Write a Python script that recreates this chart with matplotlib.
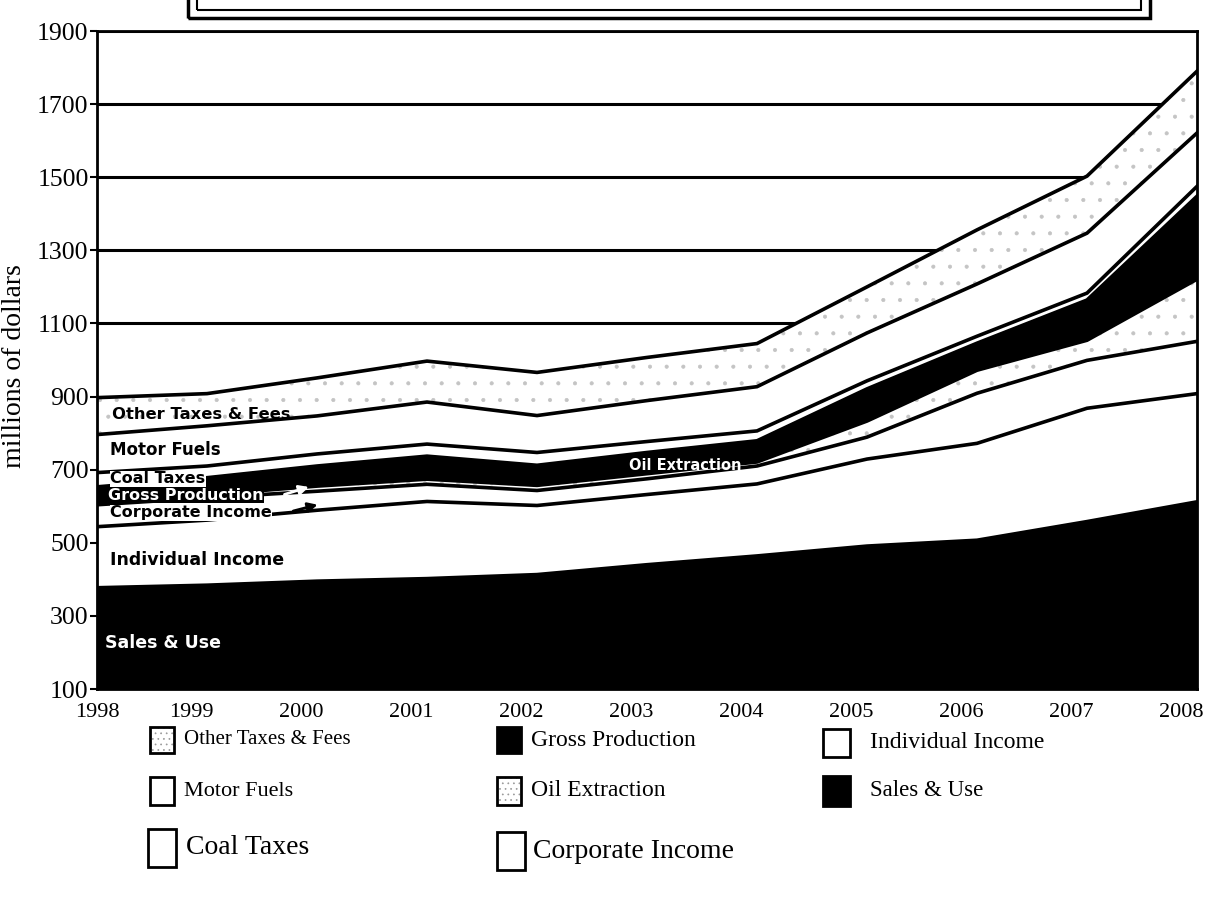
import numpy as np
import matplotlib
matplotlib.use("Agg")
import matplotlib.pyplot as plt
from matplotlib.patches import Rectangle
from matplotlib.transforms import offset_copy

# tax collections, millions of dollars
years = np.arange(1998, 2009)

# stacked from the bottom up
sales_use = [377, 384, 395, 402, 413, 440, 464, 491, 507, 558, 612]
individual_income = [167, 178, 194, 211, 189, 192, 197, 238, 265, 310, 296]
corporate_income = [60, 61, 52, 47, 41, 43, 49, 60, 137, 131, 143]
oil_extraction = [8, 8, 14, 14, 14, 14, 11, 44, 63, 55, 170]
gross_production = [41, 47, 55, 63, 55, 58, 58, 88, 74, 110, 227]
coal_taxes = [39, 32, 33, 33, 35, 30, 27, 22, 19, 19, 27]
motor_fuels = [104, 110, 104, 115, 101, 112, 121, 131, 143, 164, 146]
other_taxes = [101, 88, 104, 112, 118, 118, 118, 126, 148, 156, 169]

y_ticks = list(range(100, 2000, 200))

SERIF = "Liberation Serif"
STIPPLE = "#c4c4c4"

layers = [
    ("Sales & Use", sales_use, "black", None),
    ("Individual Income", individual_income, "white", None),
    ("Corporate Income", corporate_income, "white", None),
    ("Oil Extraction", oil_extraction, "white", "."),
    ("Gross Production", gross_production, "black", None),
    ("Coal Taxes", coal_taxes, "white", None),
    ("Motor Fuels", motor_fuels, "white", None),
    ("Other Taxes & Fees", other_taxes, "white", "."),
]

plt.rcParams["hatch.linewidth"] = 0.5

W, H = 1207, 907
fig = plt.figure(figsize=(W / 100, H / 100), dpi=100)
ax = fig.add_axes([97 / W, 1 - 689 / H, 1100 / W, 658 / H])


def fpos(x, y):
    # pixel position (from top-left) to figure fraction
    return x / W, 1 - y / H


base = np.zeros(len(years))
for name, vals, color, hatch in layers:
    top = base + np.array(vals)
    if hatch:
        ax.fill_between(years, base, top, facecolor="white", edgecolor=STIPPLE,
                        hatch=hatch, linewidth=0, zorder=2)
    else:
        ax.fill_between(years, base, top, facecolor=color, linewidth=0, zorder=2)
    ax.plot(years, top, color="black", lw=2.6, zorder=3, solid_joinstyle="miter")
    base = top

ax.set_xlim(1998, 2008)
ax.set_ylim(100, 1900)
ax.set_yticks(y_ticks)
ax.set_xticks(years)
ax.set_axisbelow(True)
ax.grid(axis="y", color="black", lw=2.2)
ax.grid(axis="x", visible=False)

for side in ["left", "right", "top", "bottom"]:
    ax.spines[side].set_linewidth(2)
    ax.spines[side].set_color("black")

ax.tick_params(axis="y", direction="out", length=5, width=1.5, labelsize=18.5, pad=1)
ax.tick_params(axis="x", length=0, labelsize=16, pad=10)
for lab in ax.get_xticklabels() + ax.get_yticklabels():
    lab.set_fontfamily(SERIF)
# year labels after the first sit a little left of their year
for lab in ax.get_xticklabels()[1:]:
    lab.set_transform(offset_copy(lab.get_transform(), fig=fig, x=-16, y=0, units="dots"))

fig.text(15 / W, 1 - 366 / H, "millions of dollars", rotation=90, ha="center",
         va="center", fontsize=20, family=SERIF)

# labels drawn on the bands
band = dict(family="DejaVu Sans", weight="bold", zorder=5, va="center")
ax.text(1998.14, 851, "Other Taxes & Fees", color="black", fontsize=11.8, **band)
ax.text(1998.12, 755, "Motor Fuels", color="black", fontsize=12, **band)
ax.text(1998.12, 675, "Coal Taxes", color="black", fontsize=11.5,
        bbox=dict(facecolor="white", edgecolor="none", pad=0.3), **band)
ax.text(1998.10, 630, "Gross Production", color="white", fontsize=11.5,
        bbox=dict(facecolor="black", edgecolor="none", pad=0.3), **band)
ax.text(1998.12, 582, "Corporate Income", color="black", fontsize=11.5,
        bbox=dict(facecolor="white", edgecolor="none", pad=0.3), **band)
ax.text(1998.12, 453, "Individual Income", color="black", fontsize=12.5, **band)
ax.text(1998.07, 226, "Sales & Use", color="white", fontsize=12.5, **band)
ax.text(2002.84, 712, "Oil Extraction", color="white", fontsize=10.5, **band)

arrow = dict(arrowstyle="-|>", lw=2, mutation_scale=14)
ax.annotate("", xy=(1999.55, 686), xytext=(1999.3, 677),
            arrowprops=dict(color="black", **arrow), zorder=6)
ax.annotate("", xy=(1999.95, 655), xytext=(1999.68, 630),
            arrowprops=dict(color="white", **arrow), zorder=6)
ax.annotate("", xy=(2000.03, 606), xytext=(1999.76, 585),
            arrowprops=dict(color="black", **arrow), zorder=6)

# legend, three columns: label, fill, hatch, box x, row y, font size, box w, box h, gap
legend_rows = [
    ("Other Taxes & Fees", "white", "...", 150, 740, 15, 24, 26, 10),
    ("Motor Fuels", "white", None, 150, 791, 16, 24, 28, 10),
    ("Coal Taxes", "white", None, 148, 848, 20, 28, 38, 10),
    ("Gross Production", "black", None, 497, 740, 17, 24, 26, 10),
    ("Oil Extraction", "white", "...", 497, 791, 17, 24, 28, 10),
    ("Corporate Income", "white", None, 497, 851, 20, 28, 38, 8),
    ("Individual Income", "white", None, 823, 743, 17, 27, 28, 20),
    ("Sales & Use", "black", None, 823, 791, 16.5, 27, 30, 20),
]
for label, color, hatch, x, y, size, bw, bh, gap in legend_rows:
    x0, y0 = fpos(x, y + bh / 2)
    if hatch:
        fig.add_artist(Rectangle((x0, y0), bw / W, bh / H, transform=fig.transFigure,
                                 facecolor="white", edgecolor="#999999", lw=0, hatch=hatch))
    fig.add_artist(Rectangle((x0, y0), bw / W, bh / H, transform=fig.transFigure,
                             facecolor="none" if hatch else color, edgecolor="black", lw=2))
    tx, ty = fpos(x + bw + gap, y)
    fig.text(tx, ty, label, ha="left", va="center", fontsize=size, family=SERIF)

# frame of the heading box along the top edge
for (x1, x2, y2, lw) in [(188, 1150, 18, 2.5), (197, 1141, 10, 1.5)]:
    fx, fy = fpos(x1, y2)
    fig.add_artist(Rectangle((fx, fy), (x2 - x1) / W, 40 / H, transform=fig.transFigure,
                             facecolor="none", edgecolor="black", lw=lw))

fig.savefig("out.png", dpi=100, facecolor="white")
